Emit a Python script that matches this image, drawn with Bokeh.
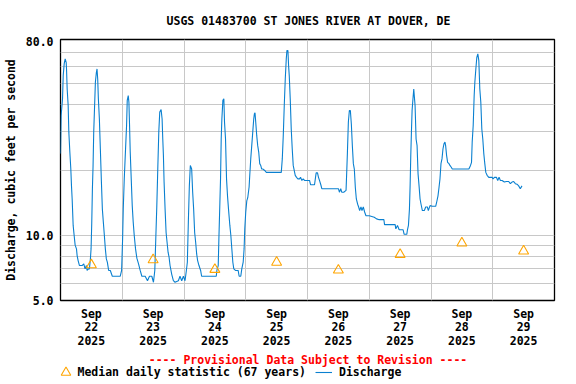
from bokeh.plotting import figure
from bokeh.layouts import column
from bokeh.models import Range1d, FixedTicker, Label, Legend, LegendItem
from bokeh.embed import file_html
from bokeh.resources import INLINE

chart_title = "USGS 01483700 ST JONES RIVER AT DOVER, DE"
y_title = "Discharge, cubic feet per second"
provisional_note = "---- Provisional Data Subject to Revision ----"
median_name = "Median daily statistic (67 years)"
discharge_name = "Discharge"

# days shown (each day starts at hour 24*i after 2025-09-22 00:00)
day_labels = ["Sep\n22\n2025", "Sep\n23\n2025", "Sep\n24\n2025", "Sep\n25\n2025",
              "Sep\n26\n2025", "Sep\n27\n2025", "Sep\n28\n2025", "Sep\n29\n2025"]

y_tick_values = [5, 10, 80]
y_tick_labels = ["5.0", "10.0", "80.0"]
y_grid_values = [6, 7, 8, 9, 10, 20, 30, 40, 50, 60, 70]

# discharge, hours since 2025-09-22 00:00
hours = [
    0.00, 0.25, 0.79, 1.05, 1.43, 1.82, 2.21, 2.34, 2.59, 2.98,
    3.24, 3.63, 4.01, 4.27, 4.53, 4.92, 5.30, 5.69, 6.21, 6.46,
    6.85, 7.37, 8.40, 9.04, 9.56, 10.07, 10.33, 10.85, 11.24, 11.62,
    11.88, 12.14, 12.40, 12.66, 12.91, 13.30, 13.56, 13.95, 14.20, 14.46,
    14.72, 15.11, 15.49, 15.88, 16.27, 16.65, 17.04, 17.43, 17.82, 18.20,
    18.72, 19.36, 20.14, 23.23, 23.75, 24.14, 24.39, 24.78, 25.17, 25.68,
    25.94, 26.33, 26.59, 26.84, 27.10, 27.49, 27.88, 28.26, 28.65, 29.17,
    29.68, 30.33, 30.97, 31.62, 32.91, 33.81, 34.58, 35.49, 36.13, 36.65,
    37.03, 37.42, 37.81, 38.20, 38.58, 39.10, 39.49, 39.75, 40.00, 40.26,
    40.65, 41.04, 41.42, 41.81, 42.20, 42.58, 43.23, 43.87, 44.52, 45.81,
    46.45, 47.11, 47.76, 48.40, 48.92, 49.30, 49.69, 50.08, 50.46, 50.98,
    51.37, 51.75, 52.14, 52.53, 52.92, 53.30, 53.82, 54.46, 54.85, 60.53,
    60.78, 61.30, 61.56, 61.95, 62.20, 62.46, 62.72, 63.11, 63.49, 63.75,
    64.14, 64.53, 64.91, 65.30, 65.82, 66.20, 66.59, 66.98, 67.36, 68.00,
    69.04, 69.43, 70.07, 70.46, 71.00, 71.36, 71.62, 72.00, 72.40, 72.78,
    73.30, 73.56, 73.94, 74.33, 74.72, 75.10, 75.36, 75.60, 75.88, 76.27,
    76.65, 77.04, 77.43, 77.82, 78.20, 78.72, 79.36, 80.00, 85.81, 86.20,
    86.58, 86.97, 87.36, 87.75, 88.00, 88.39, 88.65, 88.91, 89.29, 89.68,
    90.07, 90.45, 90.84, 91.23, 91.74, 92.26, 92.90, 93.29, 93.81, 94.33,
    94.84, 95.48, 96.79, 97.18, 98.73, 99.12, 99.37, 99.89, 100.27, 100.66,
    101.18, 101.56, 108.01, 108.40, 108.92, 109.30, 110.08, 110.98, 111.24, 111.50,
    111.88, 112.27, 112.66, 113.04, 113.43, 113.82, 114.20, 114.59, 114.98, 115.50,
    115.88, 116.27, 116.79, 117.17, 117.69, 118.20, 118.72, 120.01, 121.95, 122.85,
    123.88, 125.69, 125.94, 130.07, 130.33, 130.97, 131.62, 133.17, 133.56, 134.59,
    134.85, 135.23, 135.62, 135.88, 136.14, 136.39, 136.65, 137.04, 137.30, 137.55,
    137.81, 138.20, 138.59, 138.97, 139.36, 139.75, 140.13, 140.65, 141.42, 141.94,
    142.59, 142.97, 143.62, 144.53, 145.82, 146.20, 146.72, 147.11, 147.49, 147.88,
    148.27, 148.65, 149.04, 149.43, 149.69, 150.07, 150.46, 150.98, 151.36, 151.88,
    152.27, 158.72, 159.36, 159.75, 160.01, 160.40, 160.78, 161.04, 161.43, 161.81,
    162.20, 162.59, 162.97, 163.36, 163.75, 164.13, 164.52, 164.91, 165.30, 165.81,
    166.46, 167.75, 168.13, 168.65, 169.42, 169.94, 170.45, 170.97, 171.62, 172.52,
    173.29, 174.20, 174.84, 175.49, 176.13, 176.78, 177.42, 178.07, 178.71, 179.36,
]
discharge_cfs = [
    23.8, 35.7, 42.6, 54.5, 61.7, 65.1, 62.8, 58.5, 47.3, 39.7,
    29.9, 24.2, 20.2, 16.9, 14.7, 11.1, 10.0, 9.0, 8.65, 8.06,
    7.64, 7.25, 7.25, 7.38, 7.0, 7.25, 6.88, 7.0, 7.0, 7.78,
    8.65, 11.3, 16.4, 21.0, 29.9, 41.1, 50.8, 56.5, 58.5, 52.6,
    42.6, 34.4, 25.0, 17.9, 13.2, 11.5, 10.0, 8.65, 7.78, 7.51,
    6.88, 6.88, 6.47, 6.47, 6.88, 9.62, 13.2, 18.2, 23.3, 32.1,
    41.9, 44.1, 41.1, 32.1, 24.2, 18.2, 13.7, 11.5, 10.0, 8.65,
    7.84, 7.38, 6.88, 6.47, 6.47, 6.17, 6.47, 6.47, 6.07, 6.88,
    9.62, 13.5, 20.2, 29.9, 37.0, 38.0, 34.4, 27.8, 23.3, 17.6,
    13.2, 10.3, 9.29, 8.35, 7.92, 7.25, 6.6, 6.17, 6.07, 6.17,
    6.47, 6.17, 6.47, 6.17, 6.88, 7.51, 11.5, 16.9, 21.0, 20.2,
    15.8, 13.2, 10.3, 9.29, 8.2, 7.64, 7.25, 6.88, 6.47, 6.47,
    6.88, 7.25, 9.62, 14.2, 18.2, 27.8, 34.4, 41.9, 42.6, 33.2,
    27.8, 18.2, 15.2, 13.2, 11.1, 10.0, 8.65, 7.51, 7.0, 6.88,
    6.88, 6.47, 6.47, 7.0, 7.51, 8.65, 10.7, 12.8, 14.4, 14.9,
    16.7, 18.9, 22.5, 25.9, 29.9, 34.4, 36.3, 36.7, 33.2, 28.8,
    25.9, 24.2, 21.4, 21.0, 20.2, 20.2, 19.9, 19.5, 19.5, 22.5,
    28.8, 39.7, 52.6, 65.1, 71.1, 71.1, 60.6, 54.5, 42.6, 30.9,
    25.0, 21.0, 19.9, 18.9, 18.5, 18.2, 18.2, 18.5, 17.9, 18.2,
    17.9, 17.9, 17.9, 17.1, 17.1, 18.5, 19.4, 19.4, 18.5, 17.9,
    17.1, 16.4, 16.4, 15.8, 16.4, 15.8, 15.8, 16.1, 19.5, 23.8,
    33.2, 37.6, 37.6, 32.6, 25.9, 21.4, 20.2, 16.6, 14.7, 13.9,
    13.5, 13.0, 13.5, 13.0, 13.5, 12.8, 12.3, 12.3, 12.1, 11.9,
    11.8, 11.8, 11.2, 11.2, 10.7, 11.1, 10.6, 10.6, 10.1, 10.1,
    10.6, 11.1, 13.2, 16.9, 23.3, 29.9, 37.6, 43.3, 47.3, 43.3,
    39.7, 27.8, 25.9, 19.2, 16.9, 14.7, 13.9, 13.0, 13.0, 13.5,
    13.5, 13.0, 13.7, 13.6, 13.6, 14.2, 15.2, 16.6, 18.2, 21.4,
    22.5, 25.0, 26.4, 26.9, 25.9, 23.3, 21.7, 21.4, 21.0, 20.6,
    20.2, 20.2, 21.0, 21.7, 26.9, 32.1, 44.1, 50.8, 58.5, 66.2,
    68.7, 63.9, 47.3, 41.1, 30.9, 27.8, 23.8, 21.4, 19.5, 18.9,
    18.5, 18.5, 18.2, 18.5, 18.5, 17.9, 18.5, 17.9, 17.9, 17.6,
    17.7, 17.7, 17.3, 17.6, 17.7, 17.3, 17.2, 16.9, 16.4, 16.9,
]
assert len(hours) == len(discharge_cfs)

# median daily statistic (plotted at noon of each day)
median_cfs = [7.3, 7.7, 6.95, 7.5, 6.9, 8.15, 9.2, 8.45]

n_days = len(day_labels)
day_centers = [24 * i + 12 for i in range(n_days)]
day_bounds = [24 * i for i in range(1, n_days)]

FONT = "DejaVu Sans Mono"
FSIZE = "11.5px"
LINE_COLOR = "#0a80d0"
TRI_COLOR = "#ffa500"
W = 576
BORDER_L, BORDER_R = 58, 22   # same side borders for every panel so frames line up


def blank_panel(height):
    f = figure(width=W, height=height, x_range=Range1d(0, 1), y_range=Range1d(0, 1),
               output_backend="svg", toolbar_location=None,
               x_axis_location=None, y_axis_location=None,
               min_border_left=BORDER_L, min_border_right=BORDER_R,
               min_border_top=0, min_border_bottom=0)
    f.outline_line_color = None
    f.grid.visible = False
    f.background_fill_color = "white"
    f.border_fill_color = "white"
    return f


# ---------- header with title (screen units relative to the frame) ----------
header = blank_panel(36)
header.add_layout(Label(x=248, y=16, x_units="screen", y_units="screen",
                        text=chart_title, text_align="center", text_baseline="middle",
                        text_font=FONT, text_font_style="bold", text_font_size=FSIZE,
                        text_color="black"))

# ---------- main chart ----------
p = figure(width=W, height=3 + 261 + 50,
           x_range=Range1d(0, 24 * n_days), y_range=Range1d(5, 80),
           y_axis_type="log", output_backend="svg", toolbar_location=None,
           min_border_left=BORDER_L, min_border_right=BORDER_R,
           min_border_top=3, min_border_bottom=50)

p.background_fill_color = "white"
p.border_fill_color = "white"
p.outline_line_color = "black"
p.outline_line_width = 1.3

p.xaxis.ticker = FixedTicker(ticks=day_centers)
p.xaxis.major_label_overrides = {c: lab for c, lab in zip(day_centers, day_labels)}
p.xaxis.axis_line_color = None
p.xaxis.major_tick_line_color = None
p.xaxis.minor_tick_line_color = None
p.xaxis.major_tick_out = 0
p.xaxis.major_label_standoff = 6
p.xaxis.major_label_text_font = FONT
p.xaxis.major_label_text_font_style = "bold"
p.xaxis.major_label_text_font_size = FSIZE
p.xaxis.major_label_text_color = "black"
p.xaxis.major_label_text_line_height = 0.97

p.yaxis.ticker = FixedTicker(ticks=y_tick_values)
p.yaxis.major_label_overrides = {v: lab for v, lab in zip(y_tick_values, y_tick_labels)}
p.yaxis.axis_line_color = None
p.yaxis.major_tick_line_color = None
p.yaxis.minor_tick_line_color = None
p.yaxis.major_tick_out = 0
p.yaxis.major_label_standoff = 7
p.yaxis.major_label_text_font = FONT
p.yaxis.major_label_text_font_style = "bold"
p.yaxis.major_label_text_font_size = FSIZE
p.yaxis.major_label_text_color = "black"
p.yaxis.axis_label = y_title
p.yaxis.axis_label_standoff = 5
p.yaxis.axis_label_text_font = FONT
p.yaxis.axis_label_text_font_style = "bold"
p.yaxis.axis_label_text_font_size = FSIZE
p.yaxis.axis_label_text_color = "black"

p.xgrid.ticker = FixedTicker(ticks=day_bounds)
p.ygrid.ticker = FixedTicker(ticks=y_grid_values)
p.xgrid.grid_line_color = "#c8c8c8"
p.ygrid.grid_line_color = "#c8c8c8"
p.xgrid.grid_line_width = 1
p.ygrid.grid_line_width = 1

p.line(hours, discharge_cfs, line_color=LINE_COLOR, line_width=1.1)
p.scatter(day_centers, median_cfs, marker="triangle", size=10,
          fill_color=None, line_color=TRI_COLOR, line_width=1.1)

# ---------- footer with note and legend (screen units relative to the frame) ----------
footer = blank_panel(34)
footer.add_layout(Label(x=247.5, y=25, x_units="screen", y_units="screen",
                        text=provisional_note, text_align="center", text_baseline="middle",
                        text_font=FONT, text_font_style="bold", text_font_size=FSIZE,
                        text_color="#ff0000"))
# proxy renderers (outside the visible range) that only supply legend keys
key_tri = footer.scatter([-10], [-10], marker="triangle", size=10,
                         fill_color=None, line_color=TRI_COLOR, line_width=1.1)
key_line = footer.line([-10, -9], [-10, -10], line_color=LINE_COLOR, line_width=1.1)

leg_common = dict(orientation="horizontal", padding=0, margin=0, spacing=0,
                  border_line_color=None, background_fill_alpha=0,
                  label_text_font=FONT, label_text_font_style="bold",
                  label_text_font_size=FSIZE, label_text_color="black",
                  glyph_height=24)
leg1 = Legend(items=[LegendItem(label=median_name, renderers=[key_tri])],
              location=(-7.5, 0), glyph_width=25, label_standoff=0, **leg_common)
leg2 = Legend(items=[LegendItem(label=discharge_name, renderers=[key_line])],
              location=(255, 0), glyph_width=17, label_standoff=7, **leg_common)
footer.add_layout(leg1)
footer.add_layout(leg2)

layout = column(header, p, footer, spacing=0)
open("out.html", "w").write(file_html(layout, INLINE))
